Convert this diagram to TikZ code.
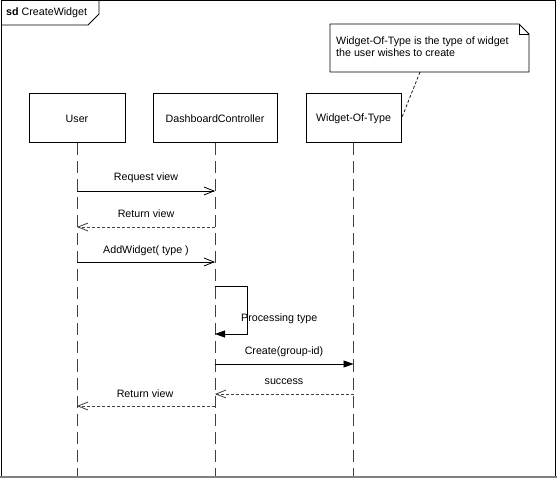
\documentclass[tikz,border=0pt]{standalone}
\usepackage{fontspec}
\setmainfont{Liberation Sans}
\usetikzlibrary{arrows.meta}
\begin{document}
\begin{tikzpicture}[x=1pt,y=-1pt,
  font=\fontsize{10.7}{12}\selectfont,
  lifebox/.style={draw,line width=1pt,minimum height=49pt,inner sep=0pt},
  lifeline/.style={draw=black!75,line width=0.9pt,dash pattern=on 12pt off 6pt},
  syncmsg/.style={draw,line width=0.8pt,-{Triangle[length=10pt,width=7pt]}},
  asyncmsg/.style={draw,line width=0.8pt,-{Straight Barb[length=10pt,width=8pt]}},
  retmsg/.style={draw=black!75,line width=0.8pt,dash pattern=on 3pt off 2pt,-{Straight Barb[length=10pt,width=8pt]}},
  lbl/.style={inner sep=0pt,anchor=center},
  notelink/.style={draw,line width=0.7pt,dash pattern=on 3pt off 2pt}
]
\useasboundingbox (0,0) rectangle (557,478);
\fill[white] (0,0) rectangle (557,478);
% frame
\draw[line width=1pt] (1,476) -- (1,1) -- (555,1) -- (555,476);
\draw[black!50,line width=2pt] (0,477) -- (557,477);
\draw[line width=0.8pt] (1,25) -- (88,25) -- (99,14) -- (99,1);
\node[anchor=west,inner sep=0pt] (title) at (6,13) {\textbf{sd} CreateWidget};

% lifeline heads
\node[lifebox,minimum width=96pt] (user) at (77,118.5) {User};
\node[lifebox,minimum width=124pt] (dc) at (215,118.5) {DashboardController};
\node[lifebox,minimum width=95pt] (wot) at (353.5,118.5) {Widget-Of-Type};

% lifeline ends
\coordinate (userend) at (77,476);
\coordinate (dcend) at (215,476);
\coordinate (wotend) at (353.5,476);
\draw[lifeline] (user.south) -- (userend);
\draw[lifeline] (dc.south) -- (dcend);
\draw[lifeline] (wot.south) -- (wotend);

% note
\draw[line width=0.8pt,fill=white] (330,24) -- (519,24) -- (529,34) -- (529,72) -- (330,72) -- cycle;
\draw[line width=0.8pt] (519,24) -- (519,34) -- (529,34);
\node[anchor=north west,align=left,inner sep=0pt] (note) at (336,36.5) {Widget-Of-Type is the type of widget\\the user wishes to create};
\coordinate (notefoot) at (420,72);
\draw[notelink] (notefoot) -- (wot.east);

% message points
\coordinate (u1) at (77,191);   \coordinate (d1) at (215,191);
\coordinate (u2) at (77,227);   \coordinate (d2) at (215,227);
\coordinate (u3) at (77,262);   \coordinate (d3) at (215,262);
\coordinate (s1) at (215,286);  \coordinate (s2) at (215,334);
\coordinate (d5) at (215,364);  \coordinate (w5) at (353.5,364);
\coordinate (d6) at (215,394);  \coordinate (w6) at (353.5,394);
\coordinate (u7) at (77,406);   \coordinate (d7) at (215,406);

\draw[asyncmsg] (u1) -- (d1);
\node[lbl] (m1) at (146,178) {Request view};
\draw[retmsg] (d2) -- (u2);
\node[lbl] (m2) at (146,214) {Return view};
\draw[asyncmsg] (u3) -- (d3);
\node[lbl] (m3) at (146,251) {AddWidget( type )};
\draw[syncmsg] (s1) -- ++(32,0) |- (s2);
\node[lbl,anchor=west] (m4) at (241,319) {Processing type};
\draw[syncmsg] (d5) -- (w5);
\node[lbl] (m5) at (284,352) {Create(group-id)};
\draw[retmsg] (w6) -- (d6);
\node[lbl] (m6) at (284,382) {success};
\draw[retmsg] (d7) -- (u7);
\node[lbl] (m7) at (145,394) {Return view};
\end{tikzpicture}
\end{document}
